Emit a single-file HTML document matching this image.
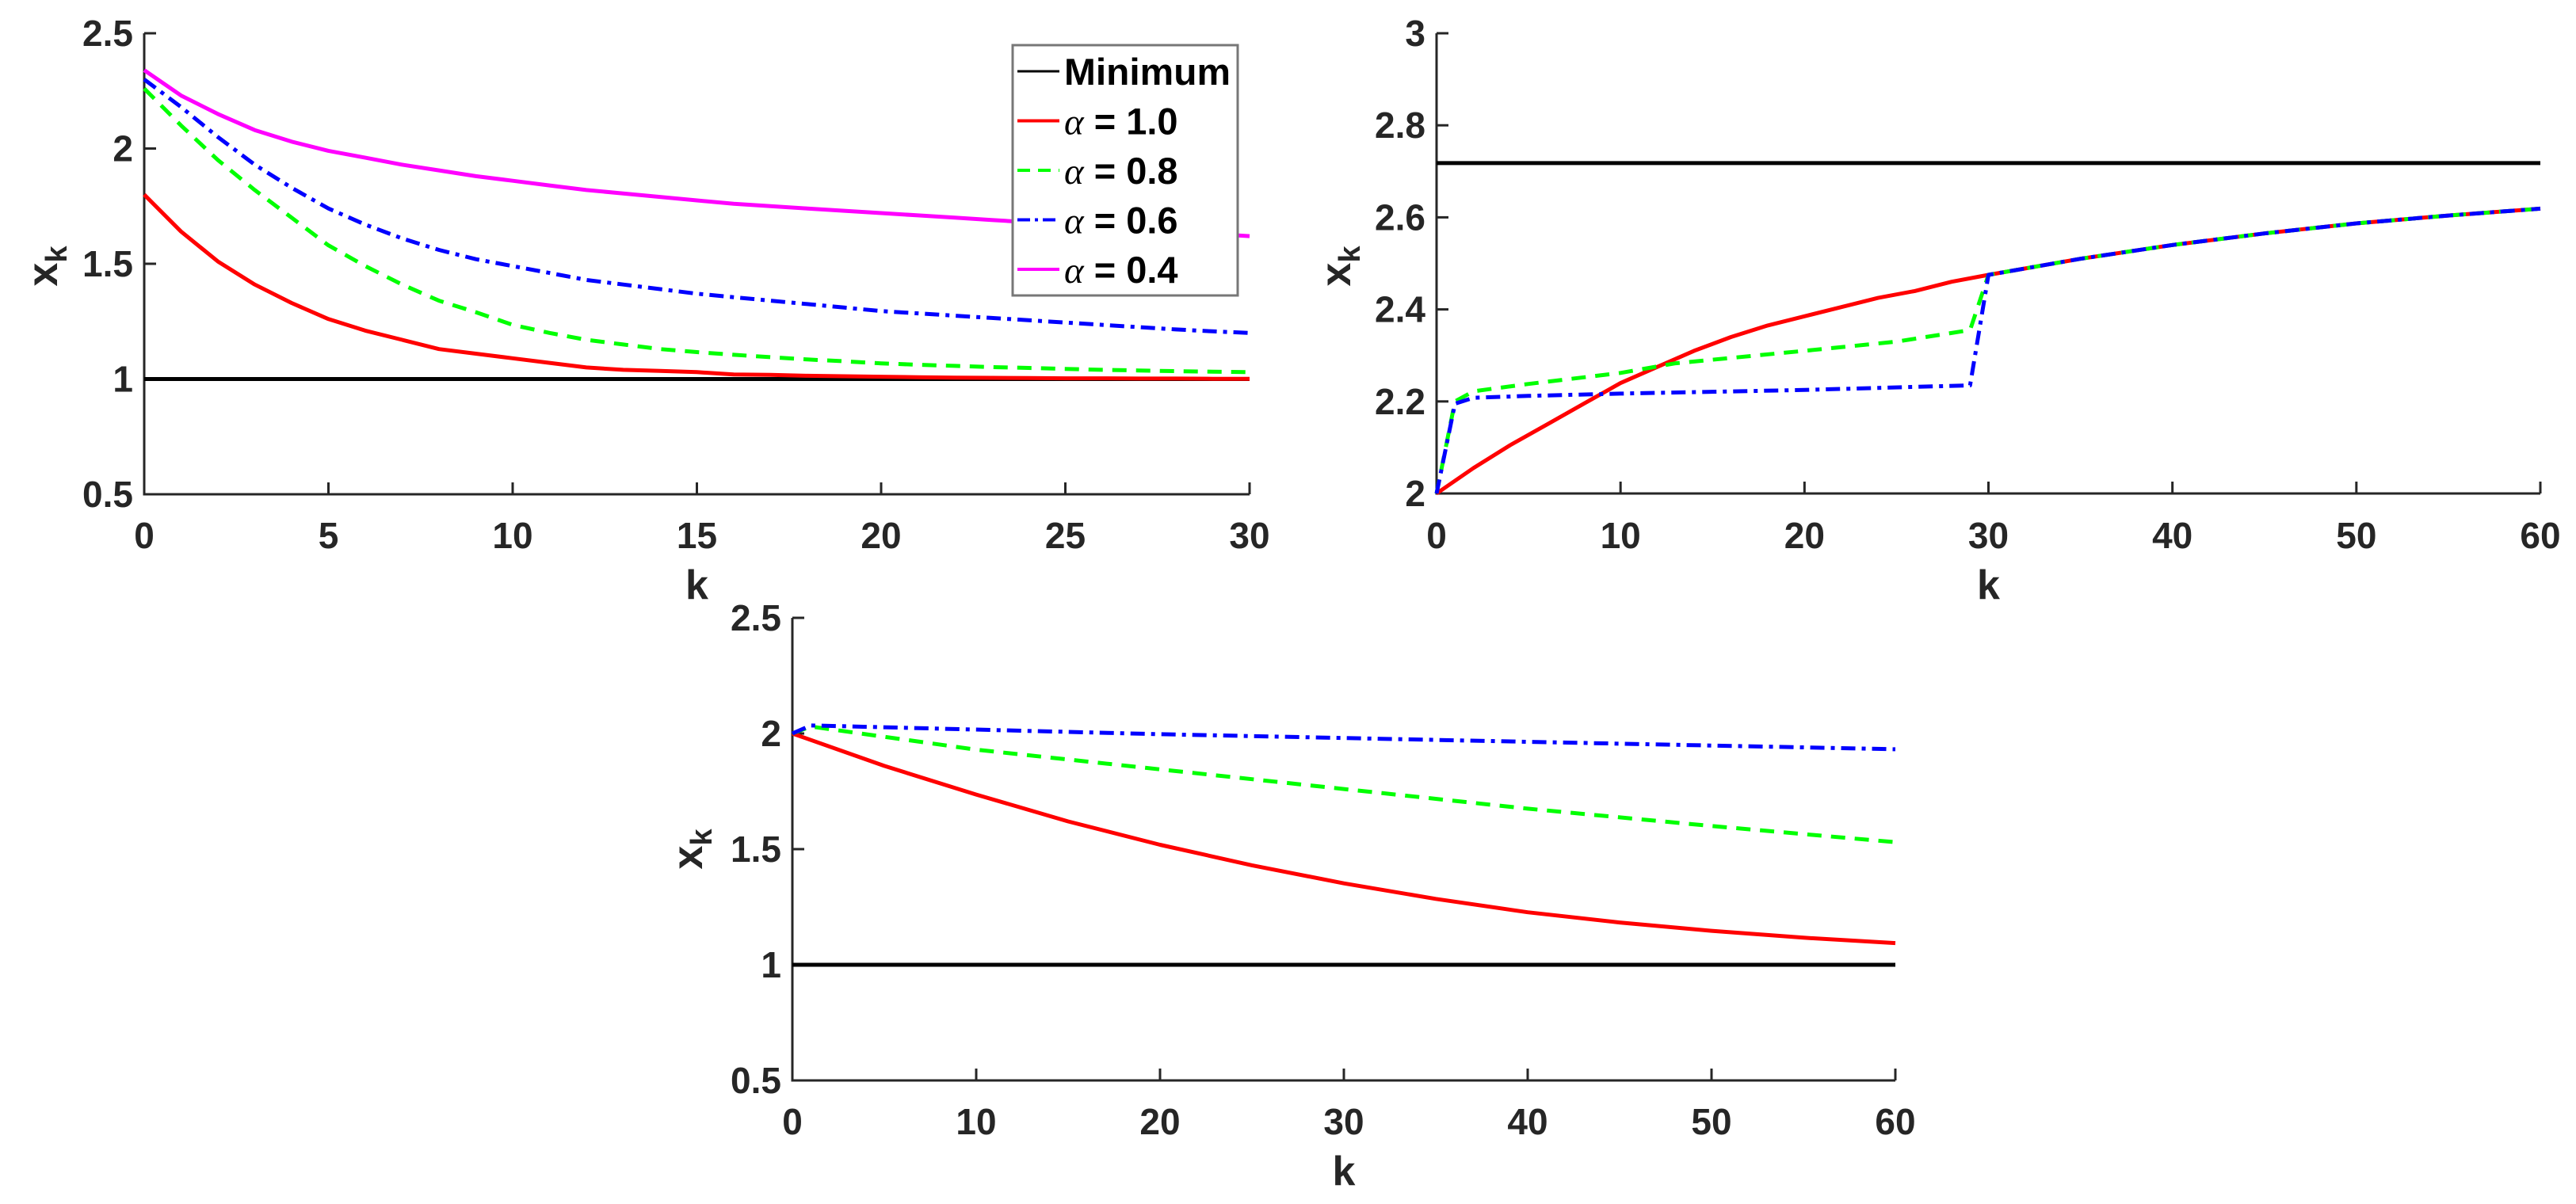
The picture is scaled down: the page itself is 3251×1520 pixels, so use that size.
<!DOCTYPE html>
<html><head><meta charset="utf-8"><style>
html,body{margin:0;padding:0;background:#fff;}
svg{display:block;font-family:"Liberation Sans",sans-serif;font-weight:bold;}
</style></head><body>
<svg id="fig" width="3251" height="1520" viewBox="0 0 3251 1520" xmlns="http://www.w3.org/2000/svg"></svg>
<script>
// ---- Panel 1 data (k = 0..30) ----
const p1K = [0,1,2,3,4,5,6,7,8,9,10,11,12,13,14,15,16,17,18,19,20,21,22,23,24,25,26,27,28,29,30];
const p1Red = [1.80,1.64,1.51,1.41,1.33,1.26,1.21,1.17,1.13,1.11,1.09,1.07,1.05,1.04,1.035,1.03,1.02,1.018,1.014,1.012,1.01,1.008,1.006,1.005,1.004,1.003,1.003,1.002,1.002,1.001,1.001];
const p1Green = [2.26,2.10,1.95,1.82,1.70,1.58,1.49,1.41,1.34,1.29,1.235,1.20,1.17,1.15,1.13,1.117,1.105,1.095,1.085,1.077,1.068,1.062,1.057,1.052,1.048,1.044,1.04,1.037,1.034,1.032,1.03];
const p1Blue = [2.30,2.18,2.05,1.93,1.83,1.74,1.67,1.61,1.56,1.52,1.49,1.46,1.43,1.41,1.39,1.37,1.355,1.34,1.325,1.31,1.295,1.285,1.275,1.265,1.255,1.245,1.235,1.225,1.215,1.207,1.20];
const p1Magenta = [2.34,2.23,2.15,2.08,2.03,1.99,1.96,1.93,1.905,1.88,1.86,1.84,1.82,1.805,1.79,1.775,1.76,1.75,1.74,1.73,1.72,1.71,1.70,1.69,1.68,1.67,1.66,1.65,1.64,1.63,1.62];
const p1Min = 1;
const p1XTicks = [0,5,10,15,20,25,30];
const p1YTicks = ["0.5","1","1.5","2","2.5"];
// ---- Panel 2 data (k = 0..60) ----
const p2RedK = [0,2,4,6,8,10,12,14,16,18,20,22,24,26,28,30,35,40,45,50,55,60];
const p2Red = [2.0,2.055,2.105,2.15,2.195,2.24,2.275,2.31,2.34,2.365,2.385,2.405,2.425,2.44,2.46,2.475,2.51,2.54,2.565,2.587,2.604,2.619];
const p2GreenK = [0,1,2,5,10,13,20,25,29,30,35,40,45,50,55,60];
const p2Green = [2.0,2.20,2.222,2.238,2.262,2.283,2.31,2.33,2.355,2.475,2.51,2.54,2.565,2.587,2.604,2.619];
const p2BlueK = [0,1,2,5,10,20,29,30,35,40,45,50,55,60];
const p2Blue = [2.0,2.195,2.208,2.212,2.217,2.225,2.235,2.475,2.51,2.54,2.565,2.587,2.604,2.619];
const p2Min = 2.718;
const p2XTicks = [0,10,20,30,40,50,60];
const p2YTicks = ["2","2.2","2.4","2.6","2.8","3"];
// ---- Panel 3 data (k = 0..60) ----
const p3RedK = [0,5,10,15,20,25,30,35,40,45,50,55,60];
const p3Red = [2.0,1.86,1.736,1.62,1.519,1.43,1.352,1.285,1.227,1.183,1.147,1.117,1.094];
const p3GreenK = [0,1,10,20,30,40,50,60];
const p3Green = [2.0,2.03,1.93,1.845,1.76,1.675,1.60,1.53];
const p3BlueK = [0,1,20,40,60];
const p3Blue = [2.0,2.035,1.997,1.964,1.932];
const p3Min = 1;
const p3XTicks = [0,10,20,30,40,50,60];
const p3YTicks = ["0.5","1","1.5","2","2.5"];

const NS = "http://www.w3.org/2000/svg";
const svg = document.getElementById('fig');
function mk(tag, attrs, parent){const e=document.createElementNS(NS,tag);for(const k in attrs)e.setAttribute(k,attrs[k]);(parent||svg).appendChild(e);return e;}

function panel(id, L, R, T, B, xmin, xmax, ymin, ymax, xticks, yticks, ylabX, ylabY, xtY, klabY){
  const g = mk('g',{});
  
  
  const sx = v => L + (v - xmin) / (xmax - xmin) * (R - L);
  const sy = v => B - (v - ymin) / (ymax - ymin) * (B - T);
  const ax = mk('path',{d:`M${L},${T} L${L},${B} L${R},${B}`,fill:'none',stroke:'#262626','stroke-width':3},g);
  
  
  xticks.forEach(v=>{
    const x = sx(v);
    mk('line',{x1:x,y1:B,x2:x,y2:B-15,stroke:'#262626','stroke-width':3},g);
    const t = mk('text',{x:x,y:xtY,'text-anchor':'middle','font-size':46,fill:'#262626'},g);
    t.textContent = v;
    
    
  });
  yticks.forEach(s=>{
    const y = sy(parseFloat(s));
    mk('line',{x1:L,y1:y,x2:L+15,y2:y,stroke:'#262626','stroke-width':3},g);
    const t = mk('text',{x:L-14,y:y+16,'text-anchor':'end','font-size':46,fill:'#262626'},g);
    t.textContent = s;
    
    
  });
  const kl = mk('text',{x:(L+R)/2,y:klabY,'text-anchor':'middle','font-size':52,fill:'#262626'},g);
  kl.textContent = 'k';
  
  
  const yl = mk('text',{transform:`translate(${ylabX},${ylabY}) rotate(-90)`,'text-anchor':'middle','font-size':54,fill:'#262626'},g);
  yl.innerHTML = 'x<tspan font-size="38" dy="12">k</tspan>';
  
  
  return {g, sx, sy};
}

function series(p, name, ks, vs, color, dash){
  const d = ks.map((k,i)=>(i?'L':'M')+p.sx(k).toFixed(1)+','+p.sy(vs[i]).toFixed(1)).join(' ');
  const a = {d:d,fill:'none',stroke:color,'stroke-width':5,'stroke-linejoin':'round'};
  if(dash) a['stroke-dasharray']=dash;
  const e = mk('path',a,p.g);
  
  
}
function minLine(p, name, v, k0, k1){
  const e = mk('line',{x1:p.sx(k0),y1:p.sy(v),x2:p.sx(k1),y2:p.sy(v),stroke:'#000','stroke-width':5},p.g);
  
  
}
const DASH = '18 12', DASHDOT = '18 8 5 8';

// Panel 1
const P1 = panel('panel-1', 182, 1577, 42, 624, 0, 30, 0.5, 2.5, p1XTicks, p1YTicks, 72, 336, 692, 756);
minLine(P1, 'panel-1-minimum-line', p1Min, 0, 30);
series(P1, 'panel-1-alpha-1.0-line', p1K, p1Red, '#ff0000');
series(P1, 'panel-1-alpha-0.8-line', p1K, p1Green, '#00ff00', DASH);
series(P1, 'panel-1-alpha-0.6-line', p1K, p1Blue, '#0000ff', DASHDOT);
series(P1, 'panel-1-alpha-0.4-line', p1K, p1Magenta, '#ff00ff');

// Panel 2
const P2 = panel('panel-2', 1813, 3206, 42, 623, 0, 60, 2, 3, p2XTicks, p2YTicks, 1704, 336, 692, 756);
minLine(P2, 'panel-2-minimum-line', p2Min, 0, 60);
series(P2, 'panel-2-alpha-1.0-line', p2RedK, p2Red, '#ff0000');
series(P2, 'panel-2-alpha-0.8-line', p2GreenK, p2Green, '#00ff00', DASH);
series(P2, 'panel-2-alpha-0.6-line', p2BlueK, p2Blue, '#0000ff', DASHDOT);

// Panel 3
const P3 = panel('panel-3', 1000, 2392, 780, 1364, 0, 60, 0.5, 2.5, p3XTicks, p3YTicks, 886, 1072, 1432, 1496);
minLine(P3, 'panel-3-minimum-line', p3Min, 0, 60);
series(P3, 'panel-3-alpha-1.0-line', p3RedK, p3Red, '#ff0000');
series(P3, 'panel-3-alpha-0.8-line', p3GreenK, p3Green, '#00ff00', DASH);
series(P3, 'panel-3-alpha-0.6-line', p3BlueK, p3Blue, '#0000ff', DASHDOT);

// Legend
const lg = mk('g',{});


mk('rect',{x:1278,y:57,width:284,height:316,fill:'#fff',stroke:'#777','stroke-width':3},lg);
const legLabels = ['Minimum','= 1.0','= 0.8','= 0.6','= 0.4'];
const legColors = ['#000','#ff0000','#00ff00','#0000ff','#ff00ff'];
const legDash = [null,null,'16 10','16 6 4 6',null];
legLabels.forEach((s,i)=>{
  const y = 90 + i*62.5;
  const ln = mk('line',{x1:1284,y1:y,x2:1337,y2:y,stroke:legColors[i],'stroke-width':i?4:3},lg);
  if(legDash[i]) ln.setAttribute('stroke-dasharray',legDash[i]);
  
  
  const t = mk('text',{x:1343,y:y+17,'font-size':47,fill:'#000'},lg);
  if(i===0){ t.textContent = s; t.setAttribute('textLength','210'); t.setAttribute('lengthAdjust','spacingAndGlyphs'); }
  else t.innerHTML = '<tspan font-family="Liberation Serif, serif" font-style="italic" font-weight="normal">α</tspan> ' + s;
  
  
});
</script>
</body></html>
